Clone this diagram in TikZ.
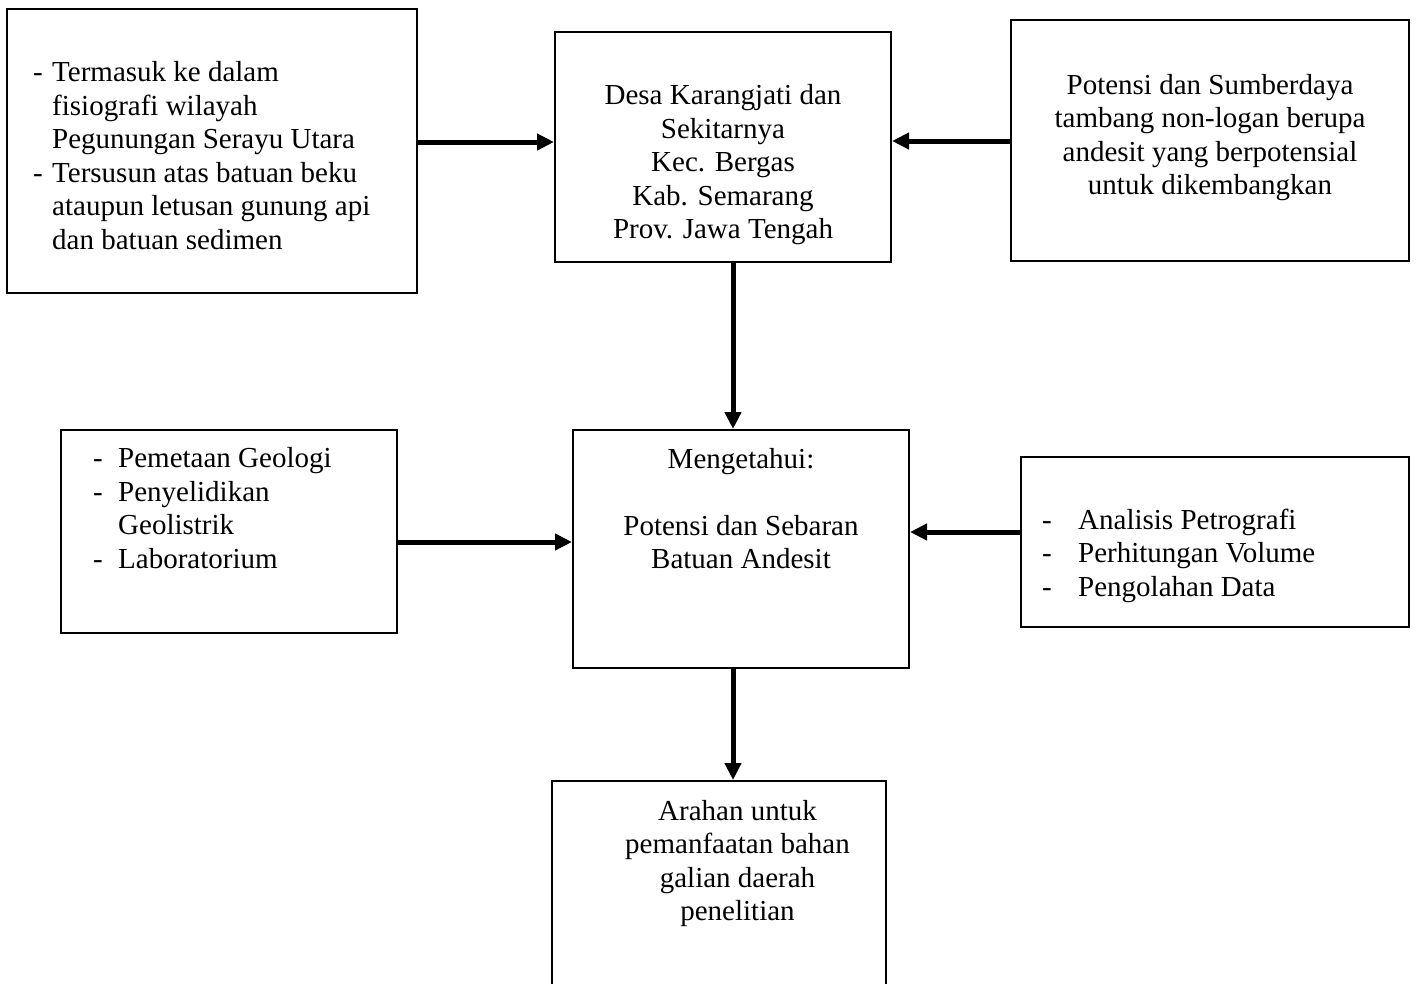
\documentclass[tikz,border=0pt]{standalone}
\usepackage{fontspec}
\setmainfont{Liberation Serif}
\usetikzlibrary{arrows.meta}
\newcommand\st{\strut}
\begin{document}
\begin{tikzpicture}[x=1pt,y=-1pt,
  box/.style={draw=black,line width=2pt,inner sep=0pt,rectangle},
  txt/.style={inner sep=0pt,font={\fontsize{29}{33.5}\selectfont}},
  arr/.style={line width=5pt,-{Triangle[length=17pt,width=16pt]}}]
\useasboundingbox (0,0) rectangle (1419,983);
\fill[white] (0,0) rectangle (1419,983);
\begin{scope}
\clip (0,0) rectangle (1419,983);
\node[box,minimum width=410pt,minimum height=284pt] (b1) at (212,151) {};
\node[box,minimum width=336pt,minimum height=230pt] (b2) at (723,147) {};
\node[box,minimum width=398pt,minimum height=241pt] (b3) at (1210,140.5) {};
\node[box,minimum width=336pt,minimum height=203pt] (b4) at (229,531.5) {};
\node[box,minimum width=336pt,minimum height=238pt] (b5) at (741,549) {};
\node[box,minimum width=388pt,minimum height=170pt] (b6) at (1215,542) {};
\node[box,minimum width=334pt,minimum height=219pt] (b7) at (719,890.5) {};
\end{scope}

\node[txt,align=left,anchor=west] (t1) at (33,159) {%
\st\makebox[19pt][l]{-}Termasuk ke dalam\\
\st\hspace*{19pt}fisiografi wilayah\\
\st\hspace*{19pt}Pegunungan Serayu Utara\\
\st\makebox[19pt][l]{-}Tersusun atas batuan beku\\
\st\hspace*{19pt}ataupun letusan gunung api\\
\st\hspace*{19pt}dan batuan sedimen};

\node[txt,align=center] (t2) at (723,165) {%
\st Desa Karangjati dan\\ \st Sekitarnya\\ \st Kec. Bergas\\ \st Kab. Semarang\\ \st Prov. Jawa Tengah};

\node[txt,align=center] (t3) at (1210,138) {%
\st Potensi dan Sumberdaya\\ \st tambang non-logan berupa\\ \st andesit yang berpotensial\\ \st untuk dikembangkan};

\node[txt,align=left,anchor=west] (t4) at (93,511.5) {%
\st\makebox[25pt][l]{-}Pemetaan Geologi\\
\st\makebox[25pt][l]{-}Penyelidikan\\
\st\hspace*{25pt}Geolistrik\\
\st\makebox[25pt][l]{-}Laboratorium};

\node[txt,align=center] (t5) at (741,512) {%
\st Mengetahui:\\ \st\\ \st Potensi dan Sebaran\\ \st Batuan Andesit};

\node[txt,align=left,anchor=west] (t6) at (1042,556) {%
\st\makebox[36pt][l]{-}Analisis Petrografi\\
\st\makebox[36pt][l]{-}Perhitungan Volume\\
\st\makebox[36pt][l]{-}Pengolahan Data};

\node[txt,align=center] (t7) at (737.5,864) {%
\st Arahan untuk\\ \st pemanfaatan bahan\\ \st galian daerah\\ \st penelitian};

\draw[arr] ([yshift=9pt]b1.east) -- ([yshift=5pt]b2.west);
\draw[arr] ([yshift=-0.5pt]b3.west) -- ([yshift=6pt]b2.east);
\draw[arr] ([xshift=10pt]b2.south) -- ([xshift=-8pt]b5.north);
\draw[arr] ([yshift=-10.5pt]b4.east) -- ([yshift=7pt]b5.west);
\draw[arr] ([yshift=10pt]b6.west) -- ([yshift=17pt]b5.east);
\draw[arr] ([xshift=-8pt]b5.south) -- ([xshift=14pt]b7.north);
\end{tikzpicture}
\end{document}
